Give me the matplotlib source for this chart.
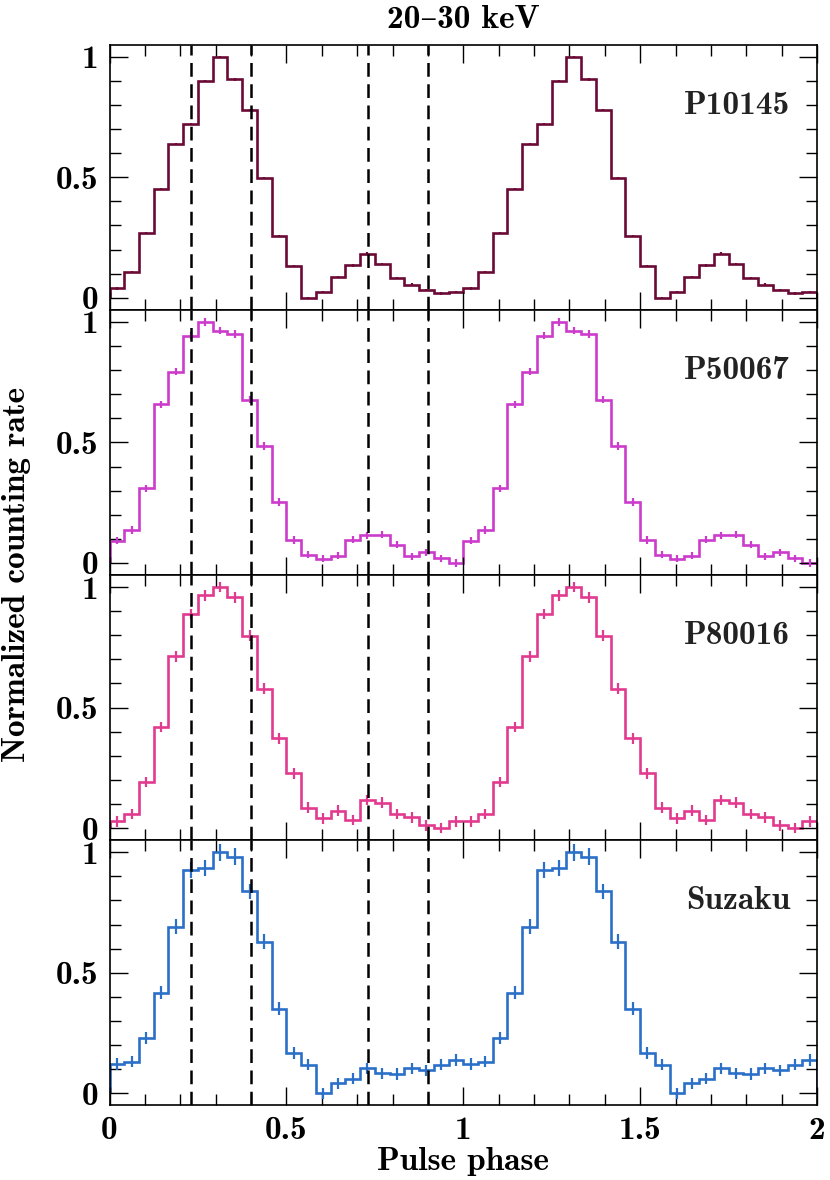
import matplotlib
matplotlib.use('Agg')
import matplotlib.pyplot as plt
import numpy as np
from matplotlib.ticker import MultipleLocator, FuncFormatter

plt.rcParams['font.family'] = ['cmb10', 'DejaVu Serif']
plt.rcParams['axes.unicode_minus'] = False
plt.rcParams['font.size'] = 24

# one pulse cycle, 24 phase bins (drawn twice)
p10145 = [0.039, 0.108, 0.27, 0.452, 0.638, 0.72, 0.90, 1.0, 0.906, 0.778, 0.498, 0.256,
          0.132, 0.0, 0.025, 0.087, 0.134, 0.183, 0.141, 0.082, 0.055, 0.032, 0.018, 0.025]
p50067 = [0.092, 0.137, 0.31, 0.658, 0.794, 0.942, 1.0, 0.964, 0.95, 0.678, 0.485, 0.253,
          0.095, 0.035, 0.017, 0.03, 0.097, 0.115, 0.117, 0.076, 0.027, 0.044, 0.02, 0.0]
p80016 = [0.028, 0.059, 0.191, 0.419, 0.712, 0.888, 0.965, 1.0, 0.957, 0.799, 0.578, 0.372,
          0.227, 0.085, 0.041, 0.073, 0.033, 0.116, 0.106, 0.058, 0.044, 0.011, 0.0, 0.028]
suzaku = [0.122, 0.131, 0.229, 0.417, 0.691, 0.926, 0.934, 1.0, 0.982, 0.837, 0.628, 0.351,
          0.166, 0.119, 0.0, 0.041, 0.06, 0.104, 0.083, 0.08, 0.104, 0.095, 0.119, 0.137]

err_p10145 = 0.005
err_p50067 = 0.015
err_p80016 = 0.022
err_suzaku = [0.024, 0.024, 0.026, 0.028, 0.031, 0.034, 0.034, 0.035, 0.035, 0.033, 0.031, 0.027,
              0.025, 0.024, 0.022, 0.022, 0.023, 0.023, 0.023, 0.023, 0.023, 0.023, 0.024, 0.024]

names = ['P10145', 'P50067', 'P80016', 'Suzaku']
profiles = [p10145, p50067, p80016, suzaku]
errors = [err_p10145, err_p50067, err_p80016, err_suzaku]
colors = ['#6b0a35', '#cc3ccc', '#e23a8f', '#2a6fc8']
vlines = [0.23, 0.40, 0.73, 0.90]

nbin = 24
edges = np.linspace(0, 2, 2 * nbin + 1)
centers = 0.5 * (edges[1:] + edges[:-1])

fig = plt.figure(figsize=(8.3, 11.8), dpi=100)
left, right = 109.5 / 830, 817 / 830
bottom, top = 1 - 1105.3 / 1180, 1 - 44.7 / 1180
h = (top - bottom) / 4

axes = []
for i in range(4):
    ax = fig.add_axes([left, top - (i + 1) * h, right - left, h])
    axes.append(ax)
    y = np.tile(profiles[i], 2)
    e = np.tile(np.broadcast_to(errors[i], (nbin,)), 2)
    ax.stairs(y, edges, color=colors[i], lw=1.9)
    ax.errorbar(centers, y, yerr=e, fmt='none', ecolor=colors[i], elinewidth=1.6, capsize=0)
    for v in vlines:
        ax.axvline(v, color='k', lw=1.8, ls=(0, (5.5, 3)))
    ax.set_xlim(0, 2)
    ax.set_ylim(-0.05, 1.05)
    ax.xaxis.set_major_locator(MultipleLocator(0.5))
    ax.xaxis.set_minor_locator(MultipleLocator(0.1))
    ax.yaxis.set_major_locator(MultipleLocator(0.5))
    ax.yaxis.set_minor_locator(MultipleLocator(0.1))
    ax.tick_params(which='both', direction='in', top=True, right=True, width=1.0)
    ax.tick_params(which='major', length=13)
    ax.tick_params(which='minor', length=8)
    ax.tick_params(axis='y', pad=8)
    ax.tick_params(axis='x', pad=8)
    ax.yaxis.set_major_formatter(FuncFormatter(lambda v, p: '%g' % v))
    ax.xaxis.set_major_formatter(FuncFormatter(lambda v, p: '%g' % v))
    for s in ax.spines.values():
        s.set_linewidth(1.2)
    if i < 3:
        plt.setp(ax.get_xticklabels(), visible=False)
    ax.text(0.962, 0.772, names[i], transform=ax.transAxes, ha='right', va='center',
            fontsize=24, color='#222222')

axes[0].set_title('20–30 keV', fontsize=24, pad=12)
fig.text(0.5 * (left + right), 1 - 1162 / 1180, 'Pulse phase', ha='center', va='center', fontsize=24)
fig.text(17 / 830, 0.5 * (top + bottom), 'Normalized counting rate', rotation=90,
         ha='center', va='center', fontsize=24)

fig.savefig('out.png', dpi=100)
